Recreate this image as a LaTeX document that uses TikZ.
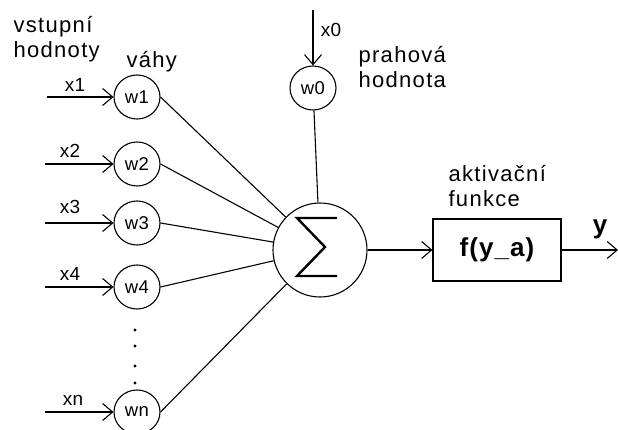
\documentclass[tikz,border=0pt]{standalone}
\usepackage{fontspec}
\setmainfont{Liberation Sans}[LetterSpace=6]
\newfontfamily\boldface{Liberation Sans}[LetterSpace=4]
\newfontfamily\labelface{Liberation Sans}[LetterSpace=2]
\usetikzlibrary{arrows.meta,shapes.geometric}
\begin{document}
\begin{tikzpicture}[x=1pt,y=-1pt,
  line width=1.1pt,
  barb/.style={-{Straight Barb[length=10pt,width=17pt,line width=1.1pt]}},
  weight/.style={draw,ellipse,minimum width=46pt,minimum height=44pt,inner sep=0pt,font=\labelface\fontsize{18.5}{20}\selectfont},
  small/.style={inner sep=0pt,font=\labelface\fontsize{19}{21}\selectfont},
  caption/.style={inner sep=0pt,anchor=north west,align=left,font=\fontsize{22}{25}\selectfont},
  dot/.style={circle,fill,inner sep=0pt,minimum size=3.2pt},
]
\useasboundingbox (0,0) rectangle (618,430);

% captions
\node[caption] (inlab) at (13,16) {vstupní\\hodnoty};
\node[caption] (wlab) at (126,51) {váhy};
\node[caption] (thlab) at (358,46) {prahová\\hodnota};
\node[caption] (aflab) at (448,165) {aktivační\\funkce};

% weights
\node[weight] (w1) at (137,97) {w1};
\node[weight] (w2) at (137,164) {w2};
\node[weight] (w3) at (137,223) {w3};
\node[weight] (w4) at (137,287) {w4};
\node[weight] (wn) at (137,412) {wn};
\node[weight] (w0) at (313,88) {w0};

% dots between w4 and wn
\node[dot] (d1) at (135,330) {};
\node[dot] (d2) at (135,346) {};
\node[dot] (d3) at (135,366) {};
\node[dot] (d4) at (135,383) {};

% summation unit
\node[draw,circle,minimum size=94pt,inner sep=0pt] (sum) at (320,250) {};
\draw[line width=2.4pt,miter limit=10]
  ([shift={(17,-32)}]sum.center) -- ([shift={(-23,-32)}]sum.center)
  -- ([shift={(5,-3)}]sum.center) -- ([shift={(-23,26)}]sum.center)
  -- ([shift={(17,26)}]sum.center);

% activation box
\node[draw,rectangle,minimum width=128pt,minimum height=62pt,inner sep=0pt,
      font=\boldface\bfseries\fontsize{26}{30}\selectfont] (box) at (497,250) {f(y\_a)};

% inputs
\coordinate (i1) at (47,97);
\coordinate (i2) at (45,164);
\coordinate (i3) at (45,223);
\coordinate (i4) at (45,287);
\coordinate (in) at (45,412);
\coordinate (i0) at (313,10);
\coordinate (out) at (618,250);

\draw[barb] (i1) -- (w1.west);
\draw[barb] (i2) -- (w2.west);
\draw[barb] (i3) -- (w3.west);
\draw[barb] (i4) -- (w4.west);
\draw[barb] (in) -- (wn.west);
\draw[barb] (i0) -- (w0.north);

\node[small] (x1) at (75,85) {x1};
\node[small] (x2) at (70,151) {x2};
\node[small] (x3) at (70,207) {x3};
\node[small] (x4) at (70,274) {x4};
\node[small] (xn) at (73,400) {xn};
\node[small] (x0) at (331,30) {x0};

% weighted inputs into the sum
\draw (w1.east) -- (sum);
\draw (w2.east) -- (sum);
\draw (w3.east) -- (sum);
\draw (w4.east) -- (sum);
\draw (wn.east) -- (sum);
\draw (w0) -- (sum);

% output path
\draw[barb] (sum.east) -- (box.west);
\draw[barb] (box.east) -- (out);
\node[inner sep=0pt,font=\boldface\bfseries\fontsize{26}{30}\selectfont] (ylab) at (600,229) {y};
\end{tikzpicture}
\end{document}
